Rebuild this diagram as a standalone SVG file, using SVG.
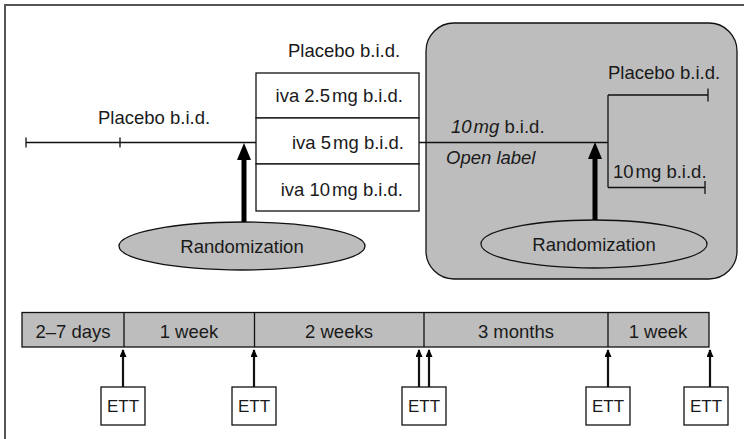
<svg xmlns="http://www.w3.org/2000/svg" width="744" height="439" viewBox="0 0 744 439">
<style>
text{font-family:"Liberation Sans",Arial,Helvetica,sans-serif;font-size:18.5px;fill:#1a1a1a}
.it{font-style:italic}
.ln{stroke:#111;stroke-width:1.3;fill:none}
.box{fill:#fff;stroke:#111;stroke-width:1.3}
.gray{fill:#bdbdbd;stroke:#111;stroke-width:1.3}
.ett{font-size:17px}
.thin{stroke:#111;stroke-width:2.2;fill:none}
.thick{stroke:#000;stroke-width:5;fill:none}
</style>
<defs>
<marker id="sm" markerWidth="8" markerHeight="8" refX="7" refY="3.5" orient="auto" markerUnits="userSpaceOnUse"><path d="M0,0 L8,3.5 L0,7 Z" fill="#000"/></marker>
</defs>
<rect x="5" y="5" width="760" height="460" fill="#fff" stroke="#555" stroke-width="2"/>

<g id="open-label-phase">
<rect class="gray" x="426" y="23" width="311" height="256" rx="28" ry="28"/>
</g>

<g id="run-in">
<text x="98" y="124">Placebo b.i.d.</text>
</g>

<g id="dose-groups">
<text x="288" y="57">Placebo b.i.d.</text>
<rect class="box" x="256" y="73" width="163" height="45"/>
<rect class="box" x="256" y="118" width="163" height="46"/>
<rect class="box" x="256" y="164" width="163" height="47"/>
<text x="403" y="102" text-anchor="end">iva 2.5<tspan dx="2">mg b.i.d.</tspan></text>
<text x="404" y="149" text-anchor="end">iva 5<tspan dx="2">mg b.i.d.</tspan></text>
<text x="403" y="196" text-anchor="end">iva 10<tspan dx="2">mg b.i.d.</tspan></text>
</g>

<g id="open-label-text">
<text x="451" y="133"><tspan class="it">10<tspan dx="2">mg</tspan></tspan> b.i.d.</text>
<text x="446" y="164" class="it">Open label</text>
</g>

<g id="withdrawal-arms">
<text x="608" y="79">Placebo b.i.d.</text>
<text x="613" y="178">10<tspan dx="2">mg b.i.d.</tspan></text>
</g>

<g id="randomization-1">
<ellipse class="gray" cx="242" cy="246" rx="123" ry="24"/>
<text x="242" y="253" text-anchor="middle">Randomization</text>
</g>
<g id="randomization-2">
<ellipse cx="594" cy="244" rx="113" ry="24" fill="#bdbdbd" stroke="#111" stroke-width="1.3"/>
<text x="594" y="251" text-anchor="middle">Randomization</text>
</g>

<g id="period-bar">
<rect class="gray" x="22" y="312.5" width="687" height="34.5"/>
<path class="ln" d="M124,312.5V347 M254.5,312.5V347 M424,312.5V347 M608,312.5V347"/>
<text x="73" y="338" text-anchor="middle">2–7 days</text>
<text x="189" y="338" text-anchor="middle">1 week</text>
<text x="339" y="338" text-anchor="middle">2 weeks</text>
<text x="516" y="338" text-anchor="middle">3 months</text>
<text x="658" y="338" text-anchor="middle">1 week</text>
</g>

<g id="ett-1"><rect class="box" x="101" y="387" width="44" height="38"/><text class="ett" x="123" y="412" text-anchor="middle">ETT</text></g>
<g id="ett-2"><rect class="box" x="232" y="387" width="44" height="38"/><text class="ett" x="254" y="412" text-anchor="middle">ETT</text></g>
<g id="ett-3"><rect class="box" x="402" y="387" width="44" height="38"/><text class="ett" x="424" y="412" text-anchor="middle">ETT</text></g>
<g id="ett-4"><rect class="box" x="586" y="387" width="44" height="38"/><text class="ett" x="608" y="412" text-anchor="middle">ETT</text></g>
<g id="ett-5"><rect class="box" x="684" y="387" width="44" height="38"/><text class="ett" x="706" y="412" text-anchor="middle">ETT</text></g>

<g id="connectors">
<path class="ln" d="M26,142.5H256 M26,137.5V147.5 M120,137.5V147.5"/>
<path class="ln" d="M419,142.5H608 M608,95V187.5 M608,95H708 M708,88.5V101.5 M608,187.5H705 M705,181V194"/>
<path class="thick" d="M244,222V158"/>
<path d="M244,143 L251,160 L237,160 Z" fill="#000"/>
<path class="thick" d="M595,220V157"/>
<path d="M595,142 L602,159 L588,159 Z" fill="#000"/>
<path class="thin" d="M123,387V350" marker-end="url(#sm)"/>
<path class="thin" d="M254,387V350" marker-end="url(#sm)"/>
<path class="thin" d="M419,387V350" marker-end="url(#sm)"/>
<path class="thin" d="M429,387V350" marker-end="url(#sm)"/>
<path class="thin" d="M608,387V350" marker-end="url(#sm)"/>
<path class="thin" d="M710,387V350" marker-end="url(#sm)"/>
</g>
</svg>
